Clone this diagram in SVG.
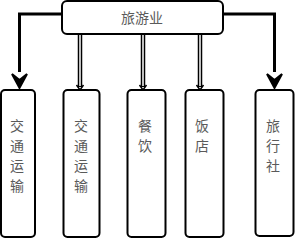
<svg xmlns="http://www.w3.org/2000/svg" width="297" height="240" viewBox="0 0 297 240">
<style>
.box{fill:#fff;stroke:#000;stroke-width:2}
.t{font-family:"Noto Sans CJK SC","Liberation Serif",serif;font-size:14px;fill:#5a5a5a;text-anchor:middle;dominant-baseline:central}
.thick{fill:none;stroke:#000;stroke-width:3}
.dbl{fill:none;stroke:#000;stroke-width:4.5}
.dbli{fill:none;stroke:#fff;stroke-width:1.5}
.head{fill:#000;stroke:#000;stroke-width:2}
.thin{fill:none;stroke:#000;stroke-width:1.5}
</style>
<g id="connectors">
<polyline class="thick" points="62,14 19.5,14 19.5,72"/>
<path class="head" d="M12,74 L19.5,88 L27,74 L19.5,80 Z"/>
<polyline class="thick" points="223,14 274.5,14 274.5,72"/>
<path class="head" d="M267,74 L274.5,88 L282,74 L274.5,80 Z"/>
<g>
<line class="dbl" x1="80" y1="34" x2="80" y2="87"/>
<line class="dbli" x1="80" y1="34" x2="80" y2="86"/>
<path class="thin" d="M76.5,85 L80,90 L83.5,85"/>
</g>
<g>
<line class="dbl" x1="143" y1="34" x2="143" y2="87"/>
<line class="dbli" x1="143" y1="34" x2="143" y2="86"/>
<path class="thin" d="M139.5,85 L143,90 L146.5,85"/>
</g>
<g>
<line class="dbl" x1="200" y1="34" x2="200" y2="87"/>
<line class="dbli" x1="200" y1="34" x2="200" y2="86"/>
<path class="thin" d="M196.5,85 L200,90 L203.5,85"/>
</g>
</g>
<g id="top">
<rect class="box" x="62" y="1" width="161" height="33" rx="5"/>
<text class="t" x="142" y="17">旅游业</text>
</g>
<g id="n1">
<rect class="box" x="1" y="90" width="34" height="147" rx="4"/>
<text class="t" x="17" y="125">交</text><text class="t" x="17" y="145">通</text><text class="t" x="17" y="165">运</text><text class="t" x="17" y="185">输</text>
</g>
<g id="n2">
<rect class="box" x="63.5" y="90" width="36" height="147" rx="4"/>
<text class="t" x="81" y="125">交</text><text class="t" x="81" y="145">通</text><text class="t" x="81" y="165">运</text><text class="t" x="81" y="185">输</text>
</g>
<g id="n3">
<rect class="box" x="127.5" y="90" width="38" height="147" rx="4"/>
<text class="t" x="145" y="125">餐</text><text class="t" x="145" y="145">饮</text>
</g>
<g id="n4">
<rect class="box" x="185.5" y="90" width="38" height="147" rx="4"/>
<text class="t" x="202" y="125">饭</text><text class="t" x="202" y="145">店</text>
</g>
<g id="n5">
<rect class="box" x="255.5" y="90" width="38" height="146" rx="4"/>
<text class="t" x="273" y="125">旅</text><text class="t" x="273" y="145">行</text><text class="t" x="273" y="165">社</text>
</g>
</svg>
